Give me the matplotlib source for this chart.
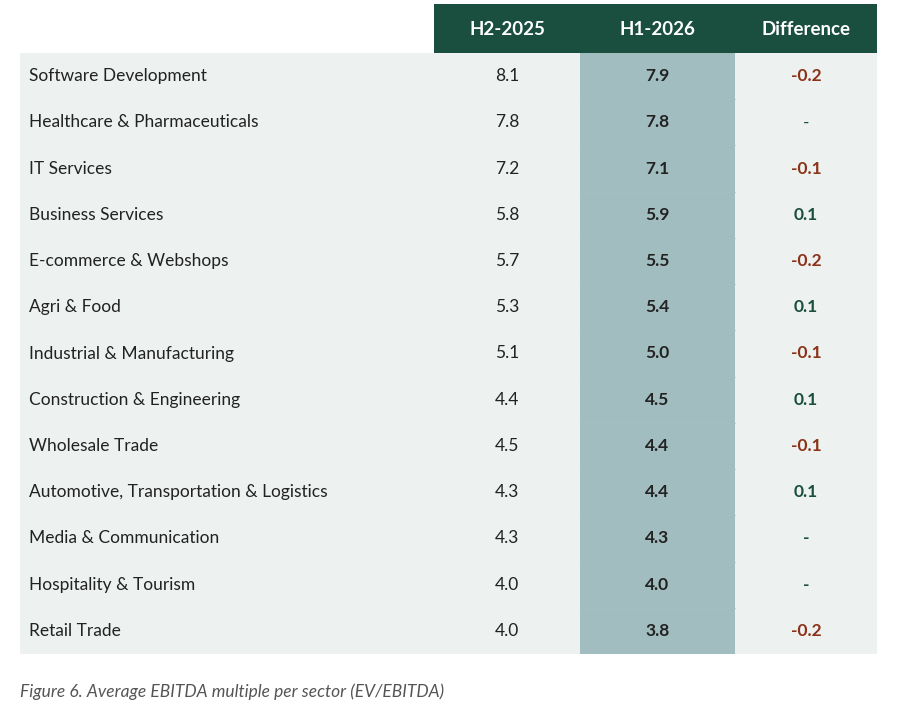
import matplotlib
matplotlib.use("Agg")
import matplotlib.pyplot as plt
from matplotlib.patches import Rectangle

# data
sectors = ['Software Development', 'Healthcare & Pharmaceuticals', 'IT Services',
           'Business Services', 'E-commerce & Webshops', 'Agri & Food',
           'Industrial & Manufacturing', 'Construction & Engineering',
           'Wholesale Trade', 'Automotive, Transportation & Logistics',
           'Media & Communication', 'Hospitality & Tourism', 'Retail Trade']
h2_2025 = [8.1, 7.8, 7.2, 5.8, 5.7, 5.3, 5.1, 4.4, 4.5, 4.3, 4.3, 4.0, 4.0]
h1_2026 = [7.9, 7.8, 7.1, 5.9, 5.5, 5.4, 5.0, 4.5, 4.4, 4.4, 4.3, 4.0, 3.8]
columns = ['H2-2025', 'H1-2026', 'Difference']
caption = 'Figure 6. Average EBITDA multiple per sector (EV/EBITDA)'

#colours
dark_green = '#1a4e3f'
body_bg = '#edf1f0'
highlight = '#a1bdbf'
neg_col = '#8b3218'
pos_col = '#1a4e3f'
txt_col = '#222222'

plt.rcParams['font.family'] = ['Lato', 'DejaVu Sans']

W, H = 922, 727
fig = plt.figure(figsize=(W / 100, H / 100), dpi=100)
ax = fig.add_axes([0, 0, 1, 1])
ax.set_xlim(0, W)
ax.set_ylim(H, 0)
ax.axis('off')

#layout
left, right = 20, 877
col_edges = [434, 580, 735, 877]
head_top, head_bot = 4, 53
body_bot = 654
n = len(sectors)
row_h = (body_bot - head_bot) / n

#header
ax.add_patch(Rectangle((col_edges[0], head_top), col_edges[-1] - col_edges[0],
                       head_bot - head_top, color=dark_green, lw=0))
for i, c in enumerate(columns):
    cx = (col_edges[i] + col_edges[i + 1]) / 2
    ax.text(cx, (head_top + head_bot) / 2 + 1, c, color='white', fontsize=13.5,
            fontweight='bold', ha='center', va='center')

#body
ax.add_patch(Rectangle((left, head_bot), right - left, body_bot - head_bot,
                       color=body_bg, lw=0))
ax.add_patch(Rectangle((col_edges[1], head_bot), col_edges[2] - col_edges[1],
                       body_bot - head_bot, color=highlight, lw=0))

for r in range(n):
    cy = head_bot + row_h * (r + 0.5)
    if r > 0:
        ax.plot([col_edges[1], col_edges[2]], [head_bot + row_h * r] * 2,
                color='#a6c1c3', lw=0.5)
    ax.text(29, cy, sectors[r], fontsize=12.5, color=txt_col, ha='left', va='center')
    ax.text((col_edges[0] + col_edges[1]) / 2, cy, f'{h2_2025[r]:.1f}', fontsize=12.5,
            color=txt_col, ha='center', va='center')
    ax.text((col_edges[1] + col_edges[2]) / 2, cy, f'{h1_2026[r]:.1f}', fontsize=12.5,
            color=txt_col, ha='center', va='center', fontweight='bold')
    d = round(h1_2026[r] - h2_2025[r], 1)
    if d == 0:
        s, col = '-', pos_col
        wt = 'normal' if r == 1 else 'bold'
    else:
        s, col = f'{d:.1f}', (neg_col if d < 0 else pos_col)
        wt = 'bold'
    ax.text((col_edges[2] + col_edges[3]) / 2, cy, s, fontsize=12.5, color=col,
            ha='center', va='center', fontweight=wt)

#caption
ax.text(20, 692, caption, fontsize=12.5, style='italic', color='#555555',
        ha='left', va='center')

fig.savefig('out.png', dpi=100)
